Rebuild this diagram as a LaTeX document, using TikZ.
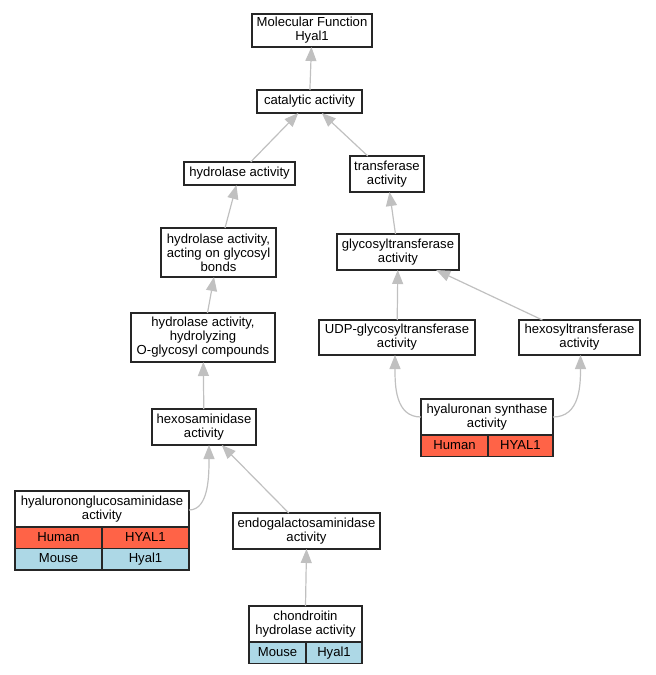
\documentclass[tikz,border=0pt]{standalone}
\usepackage{fontspec}
\setmainfont{Liberation Sans}
\usetikzlibrary{arrows.meta}
\definecolor{edgegray}{HTML}{C0C0C0}
\definecolor{humanred}{HTML}{FF6347}
\definecolor{mouseblue}{HTML}{ADD8E6}
\newcommand\lab{\fontsize{13.1}{14}\selectfont}
\begin{document}
\begin{tikzpicture}[x=1pt,y=-1pt,
  box/.style={draw=black!85, line width=1.2pt, fill=white, inner sep=0pt, outer sep=0pt, align=center, font=\lab},
  cell/.style={box, anchor=north west, minimum height=21.5, text height=9.5pt, text depth=2.5pt},
  edge/.style={draw=edgegray, line width=1.2pt, -{Triangle[length=14pt,width=11pt,fill=edgegray]}}]
\useasboundingbox (0,0) rectangle (656,675);
% nodes
\node[box, minimum width=120, minimum height=33] (mf) at (312,30.5) {Molecular Function\\Hyal1};
\node[box, minimum width=105, minimum height=23] (cat) at (309.5,101.5) {catalytic activity};
\node[box, minimum width=111, minimum height=23] (hyd) at (239.5,173.5) {hydrolase activity};
\node[box, minimum width=74, minimum height=36] (tra) at (387,174) {transferase\\activity};
\node[box, minimum width=115, minimum height=49] (acg) at (218.5,252.5) {hydrolase activity,\\acting on glycosyl\\bonds};
\node[box, minimum width=122, minimum height=36] (gly) at (398,252) {glycosyltransferase\\activity};
\node[box, minimum width=144, minimum height=49] (hoc) at (203,337.5) {hydrolase activity,\\hydrolyzing\\O-glycosyl compounds};
\node[box, minimum width=156, minimum height=35] (udp) at (397,337.5) {UDP-glycosyltransferase\\activity};
\node[box, minimum width=121, minimum height=35] (hex) at (579.5,337.5) {hexosyltransferase\\activity};
\node[box, minimum width=104, minimum height=36] (hxa) at (204,427) {hexosaminidase\\activity};
\node[box, minimum width=147, minimum height=36] (endo) at (306.5,531) {endogalactosaminidase\\activity};
% hyaluronan synthase table
\node[box, minimum width=132, minimum height=36] (hs) at (487,417) {hyaluronan synthase\\activity};
\node[cell, fill=humanred, minimum width=67] (hsa) at (hs.south west) {Human};
\node[cell, fill=humanred, minimum width=65] (hsb) at (hsa.north east) {HYAL1};
% hyaluronon-glucosaminidase table
\node[box, minimum width=174, minimum height=36] (hg) at (102,509) {hyaluronon{}glucosaminidase\\activity};
\node[cell, fill=humanred, minimum width=87] (hga) at (hg.south west) {Human};
\node[cell, fill=humanred, minimum width=87] (hgb) at (hga.north east) {HYAL1};
\node[cell, fill=mouseblue, minimum width=87] (hgc) at (hga.south west) {Mouse};
\node[cell, fill=mouseblue, minimum width=87] (hgd) at (hgc.north east) {Hyal1};
% chondroitin table
\node[box, minimum width=113, minimum height=36] (ch) at (305.5,624) {chondroitin\\hydrolase activity};
\node[cell, fill=mouseblue, minimum width=57] (cha) at (ch.south west) {Mouse};
\node[cell, fill=mouseblue, minimum width=56] (chb) at (cha.north east) {Hyal1};
% edges
\draw[edge] (cat) -- (mf);
\draw[edge] (hyd) -- (cat);
\draw[edge] (tra) -- (cat);
\draw[edge] (acg) -- (hyd);
\draw[edge] (gly) -- (tra);
\draw[edge] (hoc) -- (acg);
\draw[edge] (udp) -- (gly);
\draw[edge] (hex) -- (gly);
\draw[edge] (hxa) -- (hoc);
\draw[edge] (endo) -- (hxa);
\draw[edge] (ch.north) -- (endo.south);
\draw[edge] (hs.west) .. controls +(-26,0) and +(0,30) .. ([xshift=-2pt]udp.south);
\draw[edge] (hs.east) .. controls +(27,0) and +(0,30) .. ([xshift=1pt]hex.south);
\draw[edge] ([yshift=-1pt]hg.east) .. controls +(20,0) and +(0,30) .. ([xshift=5pt]hxa.south);
\end{tikzpicture}
\end{document}
